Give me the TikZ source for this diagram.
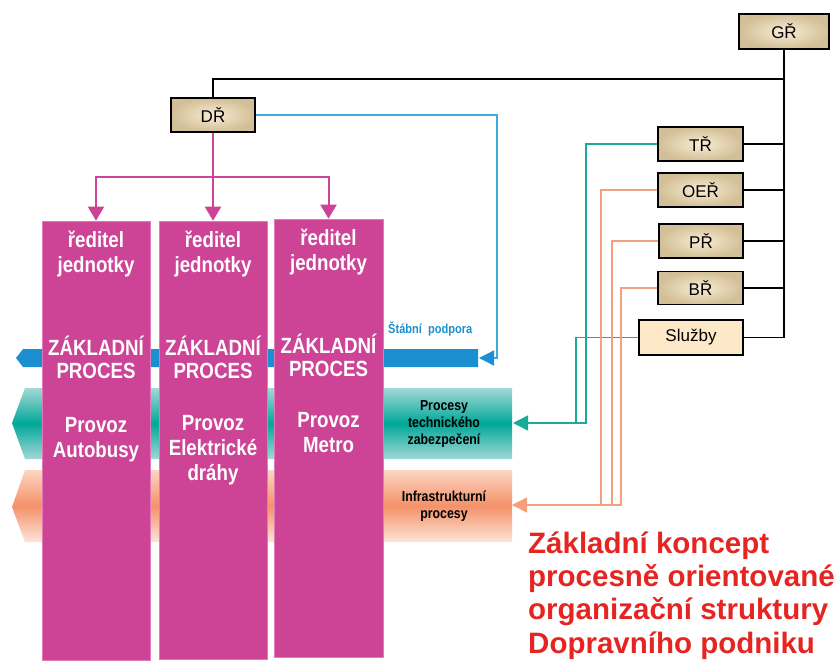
\documentclass[tikz,border=0pt]{standalone}
\usepackage{fontspec}
\setmainfont{Liberation Sans}
\newfontfamily\nar[FakeStretch=0.85]{Liberation Sans}
\usetikzlibrary{arrows.meta}
\definecolor{mag}{HTML}{CD4497}
\definecolor{magedge}{HTML}{E07AB8}
\definecolor{bluedark}{HTML}{1B8FCF}
\definecolor{bluelight}{HTML}{3FA9E0}
\definecolor{tealL}{HTML}{A3D8D6}
\definecolor{tealD}{HTML}{00A898}
\definecolor{tealline}{HTML}{1AAA9A}
\definecolor{orT}{HTML}{FCD6C2}
\definecolor{orM}{HTML}{F4916A}
\definecolor{orB}{HTML}{FDE4D8}
\definecolor{orline}{HTML}{F5A07C}
\definecolor{begL}{HTML}{F7ECD3}
\definecolor{begD}{HTML}{D3BF97}
\definecolor{slfill}{HTML}{FDE8C8}
\definecolor{titlered}{HTML}{E52521}
\begin{document}
\begin{tikzpicture}[x=1pt,y=-1pt,
  boxbase/.style={draw=black,line width=1.5pt,
    minimum width=85pt,minimum height=34pt,font=\fontsize{17}{20}\selectfont},
  box/.style={boxbase,inner color=begL,outer color=begD},
  col/.style={fill=mag,draw=magedge,line width=0.6pt,inner sep=0pt},
  ct/.style={text=white,font=\nar\bfseries\fontsize{22}{25}\selectfont,align=center,anchor=base,inner sep=0pt},
  bt/.style={text=black,font=\nar\bfseries\fontsize{14.5}{17}\selectfont,align=center,anchor=base,inner sep=0pt},
  pk/.style={draw=mag,line width=2pt,-{Triangle[width=16pt,length=14pt]}},
  bl/.style={draw=bluelight,line width=1.3pt,-{Triangle[width=15pt,length=15pt,color=bluedark]}},
  tl/.style={draw=tealline,line width=1.5pt},
  orl/.style={draw=orline,line width=1.5pt},
  blk/.style={draw=black,line width=1.5pt}
]
\useasboundingbox (0,0) rectangle (837,664);

% bands
\fill[bluedark] (23,349) -- (16,358) -- (23,367) -- (478,367) -- (478,349) -- cycle;
\shade[top color=tealL,bottom color=tealL,middle color=tealD]
  (25,388) -- (12,423) -- (25,459) -- (512,459) -- (512,388) -- cycle;
\shade[top color=orT,bottom color=orB,middle color=orM]
  (25,470) -- (12,507) -- (25,542) -- (512,542) -- (512,470) -- cycle;
\coordinate (bandB) at (479,358);
\coordinate (bandT) at (513,423);
\coordinate (bandO) at (512,505);

% columns
\node[col,minimum width=108pt,minimum height=439pt] (C1) at (96,440.5) {};
\node[col,minimum width=108pt,minimum height=438pt] (C2) at (213,440) {};
\node[col,minimum width=109pt,minimum height=438pt] (C3) at (328.5,438) {};

% column texts (anchor = baseline of last line)
\node[ct] (c1a) at (96,272) {ředitel\\jednotky};
\node[ct,font=\nar\bfseries\fontsize{22}{23}\selectfont] (c1b) at (96,378) {ZÁKLADNÍ\\PROCES};
\node[ct] (c1c) at (96,457) {Provoz\\Autobusy};
\node[ct] (c2a) at (213,272) {ředitel\\jednotky};
\node[ct,font=\nar\bfseries\fontsize{22}{23}\selectfont] (c2b) at (213,378) {ZÁKLADNÍ\\PROCES};
\node[ct] (c2c) at (213,480) {Provoz\\Elektrické\\dráhy};
\node[ct] (c3a) at (328.5,270) {ředitel\\jednotky};
\node[ct,font=\nar\bfseries\fontsize{22}{23}\selectfont] (c3b) at (328.5,376) {ZÁKLADNÍ\\PROCES};
\node[ct] (c3c) at (328.5,452) {Provoz\\Metro};

% band texts
\node[anchor=base west,inner sep=0pt,text=bluedark,font=\nar\bfseries\fontsize{13}{15}\selectfont] (stab) at (388,333) {Štábní\ \ podpora};
\node[bt] (tz) at (444,444) {Procesy\\technického\\zabezpečení};
\node[bt] (ip) at (444,518) {Infrastrukturní\\procesy};

% boxes
\node[box,minimum width=90pt,minimum height=35pt] (GR) at (784,31.5) {GŘ};
\node[box,minimum width=84pt] (DR) at (213,115) {DŘ};
\node[box] (TR) at (700.5,144) {TŘ};
\node[box] (OER) at (700.5,190) {OEŘ};
\node[box,minimum width=84pt] (PR) at (701,241) {PŘ};
\node[box,minimum height=33pt] (BR) at (700.5,288) {BŘ};
\node[boxbase,fill=slfill,minimum width=104pt,minimum height=35pt] (SL) at (691,337.5) {Služby};

% black connectors
\coordinate (jn) at (784,79);
\draw[blk] (DR.north) |- (jn);
\draw[blk] (GR.south) -- (GR.south |- SL.east) -- (SL.east);
\draw[blk] (TR.east) -- (TR.east -| GR.south);
\draw[blk] (OER.east) -- (OER.east -| GR.south);
\draw[blk] (PR.east) -- (PR.east -| GR.south);
\draw[blk] (BR.east) -- (BR.east -| GR.south);

% pink connectors
\coordinate (pj) at (213,177);
\draw[pk] (DR.south) -- (C2.north);
\draw[pk] (pj) -| (C1.north);
\draw[pk] (pj) -| (C3.north);

% blue connector
\coordinate (bk) at (497,358);
\draw[bl] (DR.east) -| (bk) -- (bandB);

% teal connectors
\coordinate (t1) at (586,423);
\coordinate (t2) at (576,423);
\draw[tl,-{Triangle[width=15pt,length=15pt]}] (TR.west) -| (t1) -- (bandT);
\draw[tl] (SL.west) -| (t2) -- (t1);

% orange connectors
\coordinate (o1) at (601,505);
\coordinate (o2) at (612,505);
\coordinate (o3) at (621,505);
\draw[orl,-{Triangle[width=15pt,length=15pt]}] (OER.west) -| (o1) -- (bandO);
\draw[orl] (PR.west) -| (o2) -- (o1);
\draw[orl] (BR.west) -| (o3) -- (o2);

% title
\node[anchor=base west,inner sep=0pt,align=left,text=titlered,
  font=\bfseries\fontsize{29.5}{33.3}\selectfont] (title) at (528,653)
  {Základní koncept\\procesně orientované\\organizační struktury\\Dopravního podniku};
\end{tikzpicture}
\end{document}
